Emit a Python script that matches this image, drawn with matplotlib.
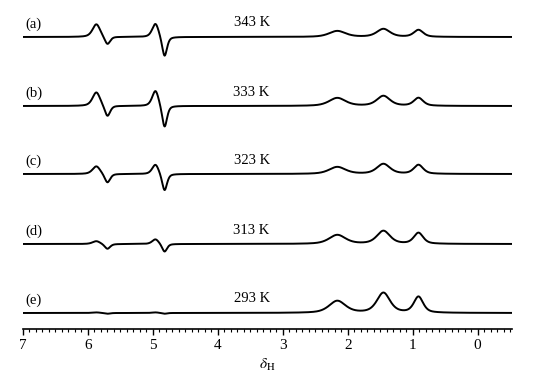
import numpy as np
import matplotlib.pyplot as plt
from matplotlib.ticker import MultipleLocator

plt.rcParams['font.family'] = 'Liberation Serif'
plt.rcParams['mathtext.fontset'] = 'stix'

# spectra labels and temperatures
labels = ['(a)', '(b)', '(c)', '(d)', '(e)']
temps = ['343 K', '333 K', '323 K', '313 K', '293 K']

# peak positions (ppm) and half widths
peak_pos = [5.87, 5.70, 4.96, 4.82, 2.16, 1.45, 0.91]
peak_width = [0.07, 0.05, 0.06, 0.045, 0.15, 0.12, 0.085]

# peak heights (positive up, negative down) for each spectrum
heights_a = [13, -8, 14, -20, 6, 8, 7]
heights_b = [14, -11, 16, -22, 8, 10, 8]
heights_c = [8, -9, 10, -17, 7, 10, 9]
heights_d = [3, -5, 5, -8, 9, 13, 11]
heights_e = [0.6, -0.8, 0.6, -0.8, 12, 20, 16]

heights = [heights_a, heights_b, heights_c, heights_d, heights_e]
offsets = [292, 223, 155, 85, 16]

ppm = np.linspace(7, -0.53, 3000)


def spectrum(h, eta=0.55):
    y = np.zeros_like(ppm)
    for x0, w, a in zip(peak_pos, peak_width, h):
        d = (ppm - x0) / w
        y += a * (eta / (1 + d**2) + (1 - eta) * np.exp(-np.log(2) * d**2))
    return y


fig = plt.figure(figsize=(5.33, 3.8), dpi=100)
ax = fig.add_axes([23/533, 1 - 329/380, (512 - 23)/533, 329/380])

for lab, t, h, off in zip(labels, temps, heights, offsets):
    ax.plot(ppm, spectrum(h) + off, color='black', lw=1.4)
    ax.text(6.97, off + 13, lab, fontsize=10.5, ha='left', va='center')
    ax.text(3.48, off + 14, t, fontsize=10.5, ha='center', va='center')

ax.set_xlim(7, -0.53)
ax.set_ylim(0, 329)
for s in ['left', 'top', 'right']:
    ax.spines[s].set_visible(False)
ax.spines['bottom'].set_linewidth(1.2)
ax.set_yticks([])
ax.xaxis.set_major_locator(MultipleLocator(1))
ax.xaxis.set_minor_locator(MultipleLocator(0.1))
ax.tick_params(axis='x', which='major', direction='out', length=4, width=1, labelsize=11, pad=3)
ax.tick_params(axis='x', which='minor', direction='out', length=2, width=0.8)
ax.set_xlabel(r'$\delta_{\mathrm{H}}$', fontsize=11, labelpad=4)

fig.savefig('out.png', dpi=100)
